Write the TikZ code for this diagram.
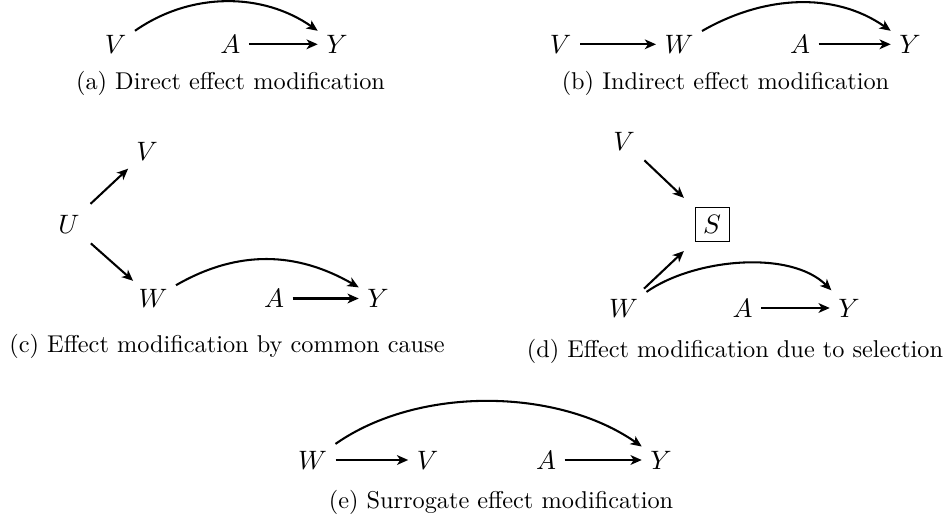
\documentclass[tikz,border=0pt]{standalone}
\usetikzlibrary{arrows.meta}
\begin{document}
\begin{tikzpicture}[x=0.4115pt,y=0.4115pt,
  var/.style={font=\fontsize{10.95}{13.6}\selectfont},
  subcap/.style={font=\fontsize{10}{12}\selectfont, inner sep=0pt, anchor=base},
  edge/.style={-{Stealth[length=4.6pt,width=4pt,inset=1.3pt]}, line width=0.85pt},
  selbox/.style={draw, line width=0.4pt, font=\fontsize{10.95}{13.6}\selectfont}]
\useasboundingbox (0,0) rectangle (951,520);

% (a) direct effect modification
\node[var] (aV) at (115.7,475.7) {$V$};
\node[var] (aA) at (230.3,475.7) {$A$};
\node[var] (aY) at (337,475.7) {$Y$};
\draw[edge] (aA) -- (aY);
\draw[edge] (aV) to[out=35,in=145,looseness=0.95] (aY);
\node[subcap] (acap) at (230.5,430) {(a) Direct effect modification};

% (b) indirect effect modification
\node[var] (bV) at (560.7,475.7) {$V$};
\node[var] (bW) at (679,475.7) {$W$};
\node[var] (bA) at (800,475.7) {$A$};
\node[var] (bY) at (910,475.7) {$Y$};
\draw[edge] (bV) -- (bW);
\draw[edge] (bA) -- (bY);
\draw[edge] (bW) to[out=30,in=145,looseness=0.95] (bY);
\node[subcap] (bcap) at (725.5,430) {(b) Indirect effect modification};

% (c) effect modification by a common cause
\node[var] (cU) at (69,296) {$U$};
\node[var] (cV) at (147,369) {$V$};
\node[var] (cW) at (153,221.5) {$W$};
\node[var] (cA) at (274,221.5) {$A$};
\node[var] (cY) at (378,221.5) {$Y$};
\draw[edge, shorten <=1.5pt] (cU) -- (cV);
\draw[edge, shorten <=1.5pt] (cU) -- (cW);
\draw[edge] (cA) -- (cY);
\draw[edge] (cW) to[out=30,in=150] (cY);
\node[subcap] (ccap) at (227,168) {(c) Effect modification by common cause};

% (d) effect modification due to selection
\node[var] (dV) at (624,379) {$V$};
\node[selbox] (dS) at (712,295.5) {$S$};
\node[var] (dW) at (623.5,212) {$W$};
\node[var] (dA) at (742.5,212) {$A$};
\node[var] (dY) at (849,212) {$Y$};
\draw[edge, shorten <=1pt, shorten >=6pt] (dV) -- (dS);
\draw[edge, shorten <=1pt, shorten >=6pt] (dW) -- (dS);
\draw[edge] (dA) -- (dY);
\draw[edge] (dW) to[out=35,in=135,looseness=0.8] (dY);
\node[subcap] (dcap) at (735,163) {(d) Effect modification due to selection};

% (e) surrogate effect modification
\node[var] (eW) at (312.5,60) {$W$};
\node[var] (eV) at (427.5,60) {$V$};
\node[var] (eA) at (546,60) {$A$};
\node[var] (eY) at (661,60) {$Y$};
\draw[edge] (eW) -- (eV);
\draw[edge] (eA) -- (eY);
\draw[edge] (eW) to[out=35,in=145,looseness=0.85] (eY);
\node[subcap] (ecap) at (501,12) {(e) Surrogate effect modification};
\end{tikzpicture}
\end{document}
